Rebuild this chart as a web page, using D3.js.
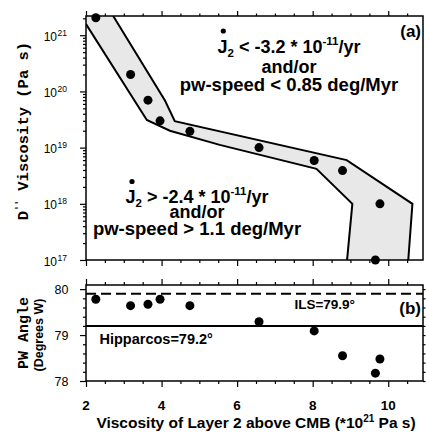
<!DOCTYPE html>
<html>
<head>
<meta charset="utf-8">
<script src="https://cdn.jsdelivr.net/npm/d3@7"></script>
<style>
	body { margin: 0; background: #fff; }
	text { font-family: "Liberation Sans", Arial, sans-serif; fill: #000; }
	.mono { font-family: "Liberation Mono", "DejaVu Sans Mono", monospace; font-weight: bold; }
</style>
</head>
<body>
<script>
// model results: viscosity of layer 2 (x 10^21 Pa s)
const layer2Visc = [2.26, 3.18, 3.64, 3.96, 4.75, 6.58, 8.04, 8.79, 9.78, 9.66];
// D" viscosity for each model (Pa s)
const dppVisc = [2.05e21, 2.0e20, 7.0e19, 3.0e19, 1.95e19, 1.0e19, 5.9e18, 3.9e18, 1.0e18, 1.0e17];
// polar wander angle (degrees W)
const pwAngle = [79.78, 79.64, 79.67, 79.78, 79.64, 79.29, 79.09, 78.55, 78.48, 78.17];

// shaded band edges
const bandUpperX = [2.72, 4.09, 4.35, 8.90, 10.64, 10.53];
const bandUpperY = [2.2e21, 6.9e19, 2.95e19, 6.0e18, 1.0e18, 1.0e17];
const bandLowerX = [2.0, 3.61, 4.22, 5.54, 8.10, 9.05, 8.91];
const bandLowerY = [1.58e21, 3.1e19, 2.0e19, 1.12e19, 4.2e18, 1.0e18, 1.0e17];

// reference pw angles
const ilsAngle = 79.9;
const hipparcosAngle = 79.2;

const xMajor = [2, 4, 6, 8, 10];
const yDecades = [17, 18, 19, 20, 21];
const angleMajor = [78, 79, 80];

const width = 427, height = 438;
const left = 86, right = 423;
const topA = 16, botA = 260, topB = 285, botB = 381;

const svg = d3.select("body").append("svg")
	.attr("width", width)
	.attr("height", height);

const x = d3.scaleLinear().domain([2, 10.92]).range([left, right]);
const yA = d3.scaleLog().domain([1e17, 2.2e21]).range([botA, topA]);
const yB = d3.scaleLinear().domain([78, 80.09]).range([botB, topB]);

const xMinor = d3.range(2, 10.91, 0.5).filter(v => !xMajor.includes(v));

svg.append("defs").append("clipPath").attr("id", "clipA")
	.append("rect")
	.attr("x", left).attr("y", topA)
	.attr("width", right - left).attr("height", botA - topA);

// ---------- panel (a) ----------
const gA = svg.append("g");

const bandPts = [[bandLowerX[0], yA.domain()[1]]]
	.concat(bandUpperX.map((v, i) => [v, bandUpperY[i]]))
	.concat(bandLowerX.map((v, i) => [v, bandLowerY[i]]).reverse());

const lineA = d3.line().x(d => x(d[0])).y(d => yA(d[1]));

const band = gA.append("g").attr("clip-path", "url(#clipA)");
band.append("path")
	.attr("d", lineA(bandPts) + "Z")
	.attr("fill", "#e8e8e8")
	.attr("stroke", "none");
band.append("path")
	.attr("d", lineA(bandUpperX.map((v, i) => [v, bandUpperY[i]])))
	.attr("fill", "none").attr("stroke", "#000").attr("stroke-width", 2);
band.append("path")
	.attr("d", lineA(bandLowerX.map((v, i) => [v, bandLowerY[i]])))
	.attr("fill", "none").attr("stroke", "#000").attr("stroke-width", 2);

gA.selectAll("circle.pt")
	.data(layer2Visc)
	.enter()
	.append("circle")
	.attr("class", "pt")
	.attr("cx", d => x(d))
	.attr("cy", (d, i) => yA(dppVisc[i]))
	.attr("r", 4.5)
	.attr("fill", "#000");

// axes of panel (a)
const tickStyle = g => {
	g.select(".domain").remove();
	g.selectAll("line").attr("stroke", "#000").attr("stroke-width", 1.2);
	g.selectAll("text").remove();
};

gA.append("g").attr("transform", `translate(0,${topA})`)
	.call(d3.axisTop(x).tickValues(xMajor).tickSize(5).tickSizeOuter(0)).call(tickStyle);
gA.append("g").attr("transform", `translate(0,${topA})`)
	.call(d3.axisTop(x).tickValues(xMinor).tickSize(2.5).tickSizeOuter(0)).call(tickStyle);
gA.append("g").attr("transform", `translate(0,${botA})`)
	.call(d3.axisBottom(x).tickValues(xMajor).tickSize(6).tickSizeOuter(0)).call(tickStyle);
gA.append("g").attr("transform", `translate(0,${botA})`)
	.call(d3.axisBottom(x).tickValues(xMinor).tickSize(3).tickSizeOuter(0)).call(tickStyle);

const yAMajor = yDecades.map(e => Math.pow(10, e));
const yAMinor = [];
yDecades.forEach(e => {
	for (let k = 2; k <= 9; k++) {
		const v = k * Math.pow(10, e);
		if (v <= 2.2e21) yAMinor.push(v);
	}
});
gA.append("g").attr("transform", `translate(${left},0)`)
	.call(d3.axisLeft(yA).tickValues(yAMajor).tickSize(6).tickSizeOuter(0)).call(tickStyle);
gA.append("g").attr("transform", `translate(${left},0)`)
	.call(d3.axisLeft(yA).tickValues(yAMinor).tickSize(3).tickSizeOuter(0)).call(tickStyle);

gA.append("rect")
	.attr("x", left).attr("y", topA)
	.attr("width", right - left).attr("height", botA - topA)
	.attr("fill", "none").attr("stroke", "#000").attr("stroke-width", 1.5);

// decade labels
gA.selectAll("text.dec")
	.data(yDecades)
	.enter()
	.append("text")
	.attr("class", "dec")
	.attr("x", 57)
	.attr("y", d => yA(Math.pow(10, d)) + 5.5)
	.attr("text-anchor", "end")
	.attr("font-size", 12)
	.text("10");
gA.selectAll("text.decsup")
	.data(yDecades)
	.enter()
	.append("text")
	.attr("class", "decsup")
	.attr("x", 57.5)
	.attr("y", d => yA(Math.pow(10, d)) + 0.5)
	.attr("font-size", 8.5)
	.text(d => d);

// y label (a)
const ylabA = gA.append("text")
	.attr("class", "mono")
	.attr("transform", "translate(28,131) rotate(-90)")
	.attr("text-anchor", "middle")
	.attr("font-size", 15.5);
ylabA.append("tspan").text("D");
ylabA.append("tspan").attr("font-size", 9).attr("dy", -6).text("''");
ylabA.append("tspan").attr("dy", 6).text(" Viscosity  (Pa  s)");

// annotations
const note = (cx, ys, sign, val, speed) => {
	const t1 = gA.append("text").attr("x", cx).attr("y", ys[0])
		.attr("text-anchor", "middle").attr("font-weight", "bold").attr("font-size", 18);
	t1.append("tspan").text("J");
	t1.append("tspan").attr("font-size", 11.5).attr("dy", 4).text("2");
	t1.append("tspan").attr("dy", -4).text(` ${sign} ${val} * 10`);
	t1.append("tspan").attr("font-size", 11.5).attr("dy", -8).text("-11");
	t1.append("tspan").attr("dy", 8).text("/yr");
	gA.append("text").attr("x", cx).attr("y", ys[1])
		.attr("text-anchor", "middle").attr("font-weight", "bold").attr("font-size", 18)
		.text("and/or");
	gA.append("text").attr("x", cx).attr("y", ys[2])
		.attr("text-anchor", "middle").attr("font-weight", "bold").attr("font-size", 18.5)
		.text(`pw-speed ${sign} ${speed} deg/Myr`);
};
note(289, [53, 72.5, 90.5], "<", "-3.2", "0.85");
note(197, [203, 218, 235], ">", "-2.4", "1.1");

gA.append("circle").attr("cx", 223.3).attr("cy", 31).attr("r", 2.6).attr("fill", "#000");
gA.append("circle").attr("cx", 132).attr("cy", 181.5).attr("r", 2.6).attr("fill", "#000");

gA.append("text").attr("x", 421).attr("y", 36.5)
	.attr("text-anchor", "end").attr("font-weight", "bold").attr("font-size", 17)
	.text("(a)");

// ---------- panel (b) ----------
const gB = svg.append("g");

gB.append("line")
	.attr("x1", left).attr("x2", right)
	.attr("y1", yB(ilsAngle)).attr("y2", yB(ilsAngle))
	.attr("stroke", "#000").attr("stroke-width", 2)
	.attr("stroke-dasharray", "10,5");
gB.append("line")
	.attr("x1", left).attr("x2", right)
	.attr("y1", yB(hipparcosAngle)).attr("y2", yB(hipparcosAngle))
	.attr("stroke", "#000").attr("stroke-width", 2);

gB.selectAll("circle.pt")
	.data(layer2Visc)
	.enter()
	.append("circle")
	.attr("class", "pt")
	.attr("cx", d => x(d))
	.attr("cy", (d, i) => yB(pwAngle[i]))
	.attr("r", 4.5)
	.attr("fill", "#000");

gB.append("g").attr("transform", `translate(0,${topB})`)
	.call(d3.axisTop(x).tickValues(xMajor).tickSize(6).tickSizeOuter(0)).call(tickStyle);
gB.append("g").attr("transform", `translate(0,${topB})`)
	.call(d3.axisTop(x).tickValues(xMinor).tickSize(3).tickSizeOuter(0)).call(tickStyle);
gB.append("g").attr("transform", `translate(0,${botB})`)
	.call(d3.axisBottom(x).tickValues(xMajor).tickSize(6).tickSizeOuter(0)).call(tickStyle);
gB.append("g").attr("transform", `translate(0,${botB})`)
	.call(d3.axisBottom(x).tickValues(xMinor).tickSize(3).tickSizeOuter(0)).call(tickStyle);

const angleMinor = d3.range(78.2, 80.05, 0.2).filter(v => Math.abs(v - Math.round(v)) > 0.01);
gB.append("g").attr("transform", `translate(${left},0)`)
	.call(d3.axisLeft(yB).tickValues(angleMajor).tickSize(6).tickSizeOuter(0)).call(tickStyle);
gB.append("g").attr("transform", `translate(${left},0)`)
	.call(d3.axisLeft(yB).tickValues(angleMinor).tickSize(3).tickSizeOuter(0)).call(tickStyle);
gB.append("g").attr("transform", `translate(${right},0)`)
	.call(d3.axisRight(yB).tickValues(angleMajor.concat(angleMinor)).tickSize(2.5).tickSizeOuter(0)).call(tickStyle);

gB.append("rect")
	.attr("x", left).attr("y", topB)
	.attr("width", right - left).attr("height", botB - topB)
	.attr("fill", "none").attr("stroke", "#000").attr("stroke-width", 1.5);

gB.selectAll("text.ang")
	.data(angleMajor)
	.enter()
	.append("text")
	.attr("class", "ang")
	.attr("x", 68.5)
	.attr("y", d => yB(d) + 4.5)
	.attr("text-anchor", "end")
	.attr("font-size", 12.5)
	.text(d => d);

gB.append("text").attr("x", 355).attr("y", 308.5)
	.attr("text-anchor", "end").attr("font-weight", "bold").attr("font-size", 13.5)
	.text("ILS=" + ilsAngle.toFixed(1) + "°");
gB.append("text").attr("x", 99.5).attr("y", 343.5)
	.attr("font-weight", "bold").attr("font-size", 14.5)
	.text("Hipparcos=" + hipparcosAngle.toFixed(1) + "°");
gB.append("text").attr("x", 421).attr("y", 313.5)
	.attr("text-anchor", "end").attr("font-weight", "bold").attr("font-size", 17)
	.text("(b)");

gB.append("text")
	.attr("class", "mono")
	.attr("transform", "translate(28,333) rotate(-90)")
	.attr("text-anchor", "middle")
	.attr("font-size", 15)
	.text("PW Angle");
gB.append("text")
	.attr("transform", "translate(42.5,335) rotate(-90)")
	.attr("text-anchor", "middle")
	.attr("font-weight", "bold")
	.attr("font-size", 12.5)
	.text("(Degrees W)");

// x tick labels and title
gB.selectAll("text.xt")
	.data(xMajor)
	.enter()
	.append("text")
	.attr("class", "xt")
	.attr("x", d => x(d))
	.attr("y", 410)
	.attr("text-anchor", "middle")
	.attr("font-weight", "bold")
	.attr("font-size", 13.5)
	.text(d => d);

const xlab = gB.append("text")
	.attr("x", 256).attr("y", 428)
	.attr("text-anchor", "middle")
	.attr("font-weight", "bold")
	.attr("font-size", 15.5);
xlab.append("tspan").text("Viscosity of Layer 2 above CMB (*10");
xlab.append("tspan").attr("font-size", 10).attr("dy", -6).text("21");
xlab.append("tspan").attr("dy", 6).text(" Pa s)");
</script>
</body>
</html>
